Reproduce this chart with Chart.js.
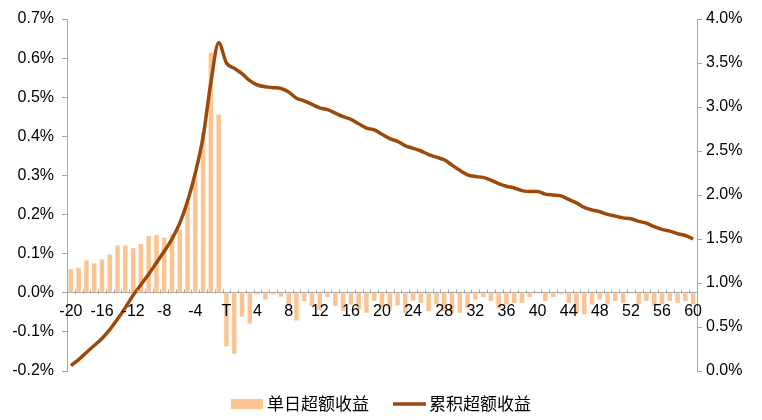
<!DOCTYPE html>
<html>
<head>
<meta charset="utf-8">
<script src="https://cdn.jsdelivr.net/npm/chart.js@4.4.1/dist/chart.umd.min.js"></script>
<style>
  html, body { margin: 0; padding: 0; background: #fff; }
  #wrap { width: 762px; height: 420px; }
</style>
</head>
<body>
<div id="wrap"><canvas id="excessChart" width="762" height="420"></canvas></div>
<script>
const dayLabels = [
  "-20", "-19", "-18", "-17", "-16", "-15", "-14", "-13", "-12", "-11",
  "-10", "-9", "-8", "-7", "-6", "-5", "-4", "-3", "-2", "-1",
  "T", "1", "2", "3", "4", "5", "6", "7", "8", "9",
  "10", "11", "12", "13", "14", "15", "16", "17", "18", "19",
  "20", "21", "22", "23", "24", "25", "26", "27", "28", "29",
  "30", "31", "32", "33", "34", "35", "36", "37", "38", "39",
  "40", "41", "42", "43", "44", "45", "46", "47", "48", "49",
  "50", "51", "52", "53", "54", "55", "56", "57", "58", "59", "60",
];

// 单日超额收益 (%), left axis
const dailyExcess = [
  0.060, 0.064, 0.083, 0.075, 0.085, 0.098, 0.121, 0.121, 0.114, 0.125,
  0.145, 0.148, 0.141, 0.150, 0.160, 0.234, 0.298, 0.410, 0.614, 0.456,
  -0.137, -0.156, -0.061, -0.079, -0.004, -0.017, -0.004, -0.010, -0.034, -0.071,
  -0.021, -0.034, -0.045, -0.011, -0.034, -0.047, -0.030, -0.043, -0.051, -0.021,
  -0.038, -0.043, -0.032, -0.051, -0.020, -0.026, -0.047, -0.030, -0.047, -0.051,
  -0.051, -0.040, -0.017, -0.011, -0.021, -0.040, -0.030, -0.026, -0.026, -0.011,
  -0.002, -0.021, -0.011, -0.004, -0.026, -0.054, -0.055, -0.030, -0.017, -0.030,
  -0.021, -0.026, -0.002, -0.030, -0.021, -0.034, -0.030, -0.021, -0.026, -0.021, -0.030,
];

// 累积超额收益 (%), right axis
const cumulativeExcess = [
  0.06, 0.13, 0.21, 0.29, 0.37, 0.47, 0.59, 0.72, 0.86, 0.98,
  1.10, 1.23, 1.36, 1.50, 1.68, 1.93, 2.25, 2.66, 3.28, 3.73,
  3.50, 3.44, 3.38, 3.30, 3.25, 3.23, 3.22, 3.21, 3.17, 3.10,
  3.07, 3.03, 2.99, 2.97, 2.93, 2.89, 2.86, 2.81, 2.76, 2.74,
  2.69, 2.64, 2.61, 2.56, 2.53, 2.50, 2.46, 2.43, 2.40, 2.34,
  2.28, 2.23, 2.21, 2.20, 2.17, 2.13, 2.10, 2.08, 2.05, 2.04,
  2.04, 2.01, 2.00, 1.99, 1.95, 1.91, 1.86, 1.83, 1.81, 1.78,
  1.76, 1.74, 1.73, 1.70, 1.68, 1.64, 1.61, 1.59, 1.56, 1.54, 1.50,
];

const leftTicks = [-0.2, -0.1, 0, 0.1, 0.2, 0.3, 0.4, 0.5, 0.6, 0.7];
const rightTicks = [0, 0.5, 1, 1.5, 2, 2.5, 3, 3.5, 4];

const AXIS_GREY = "#a6a6a6";
const tickFont = { family: "'Liberation Sans', Arial, sans-serif", size: 16 };
const LEGEND_FONT = "17px 'Noto Sans CJK SC', sans-serif";

// small upward ticks on the zero line, one per category boundary
const categoryTicks = {
  id: "categoryTicks",
  afterDraw(chart) {
    const { ctx, scales } = chart;
    const x = scales.x;
    const y0 = Math.round(scales.y.getPixelForValue(0)) + 0.5;
    const step = x.getPixelForValue(1) - x.getPixelForValue(0);
    ctx.save();
    ctx.strokeStyle = AXIS_GREY;
    ctx.lineWidth = 1;
    ctx.beginPath();
    for (let i = 0; i <= dayLabels.length; i++) {
      const px = Math.round(x.getPixelForValue(i) - step / 2) + 0.5;
      ctx.moveTo(px, y0);
      ctx.lineTo(px, y0 - 4);
    }
    ctx.stroke();
    ctx.restore();
  },
};

// legend under the plot: filled swatch for bars, stroke for the line
const bottomLegend = {
  id: "bottomLegend",
  afterDraw(chart) {
    const { ctx } = chart;
    const [bars, line] = chart.data.datasets;
    const cy = 404;
    ctx.save();
    ctx.font = LEGEND_FONT;
    ctx.textBaseline = "middle";
    ctx.fillStyle = "#000";
    const w1 = ctx.measureText(bars.label).width;
    const w2 = ctx.measureText(line.label).width;
    const total = 32 + 4 + w1 + 24 + 33 + 3 + w2;
    let x = Math.round((chart.width - total) / 2);

    ctx.fillStyle = bars.backgroundColor;
    ctx.fillRect(x, cy - 5, 32, 10);
    x += 36;
    ctx.fillStyle = "#000";
    ctx.fillText(bars.label, x, cy);
    x += w1 + 24;

    ctx.strokeStyle = line.borderColor;
    ctx.lineWidth = 3.5;
    ctx.beginPath();
    ctx.moveTo(x, cy);
    ctx.lineTo(x + 33, cy);
    ctx.stroke();
    x += 36;
    ctx.fillText(line.label, x, cy);
    ctx.restore();
  },
};

function percentTicks(values) {
  return (scale) => {
    scale.ticks = values.map((value) => ({ value }));
  };
}

const chart = new Chart(document.getElementById("excessChart"), {
  type: "bar",
  data: {
    labels: dayLabels,
    datasets: [
      {
        label: "单日超额收益",
        data: dailyExcess,
        yAxisID: "y",
        backgroundColor: "rgb(251, 196, 146)",
        borderWidth: 0,
        categoryPercentage: 1,
        barPercentage: 0.58,
        order: 2,
      },
      {
        type: "line",
        label: "累积超额收益",
        data: cumulativeExcess,
        yAxisID: "y1",
        borderColor: "#9c4a0c",
        backgroundColor: "#9c4a0c",
        borderWidth: 3.5,
        pointRadius: 0,
        cubicInterpolationMode: "monotone",
        order: 1,
      },
    ],
  },
  options: {
    responsive: false,
    animation: false,
    layout: { padding: { top: 19, bottom: 49, left: 0, right: 0 } },
    plugins: {
      legend: { display: false },
      tooltip: { enabled: false },
    },
    scales: {
      x: {
        position: { y: 0 },
        offset: true,
        grid: { display: false, drawTicks: false },
        border: { color: AXIS_GREY, width: 1 },
        ticks: {
          z: 1,
          autoSkip: false,
          maxRotation: 0,
          padding: 9,
          color: "#000",
          font: tickFont,
          callback: (value, index) => (index % 4 === 0 ? dayLabels[index] : null),
        },
      },
      y: {
        position: "left",
        min: -0.2,
        max: 0.7,
        afterBuildTicks: percentTicks(leftTicks),
        afterFit: (scale) => { scale.width = 67; },
        grid: { drawOnChartArea: false, tickLength: 5, color: AXIS_GREY },
        border: { color: AXIS_GREY, width: 1 },
        ticks: {
          padding: 8,
          color: "#000",
          font: tickFont,
          callback: (value) => value.toFixed(1) + "%",
        },
      },
      y1: {
        position: "right",
        min: 0,
        max: 4,
        afterBuildTicks: percentTicks(rightTicks),
        afterFit: (scale) => { scale.width = 65; },
        grid: { drawOnChartArea: false, tickLength: 5, color: AXIS_GREY },
        border: { color: AXIS_GREY, width: 1 },
        ticks: {
          padding: 4,
          color: "#000",
          font: tickFont,
          callback: (value) => value.toFixed(1) + "%",
        },
      },
    },
  },
  plugins: [categoryTicks, bottomLegend],
});
</script>
</body>
</html>
